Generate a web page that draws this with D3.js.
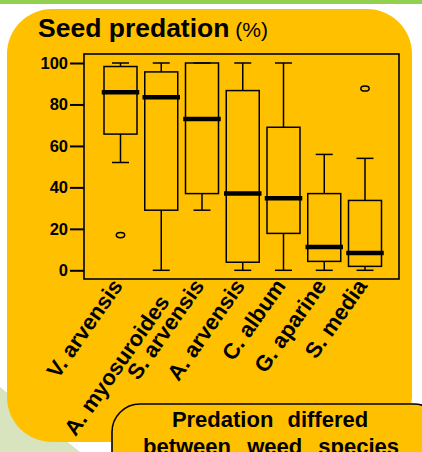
<!DOCTYPE html>
<html>
<head>
<meta charset="utf-8">
<script src="https://cdn.jsdelivr.net/npm/d3@7"></script>
<style>
  html, body { margin: 0; padding: 0; background: #fff; overflow: hidden; }
  text { font-family: "Liberation Sans", Arial, sans-serif; }
</style>
</head>
<body>
<script>
// Data
const species = ["V. arvensis", "A. myosuroides", "S. arvensis", "A. arvensis", "C. album", "G. aparine", "S. media"];
const lowerWhisker = [52, 0, 29, 0, 0, 0, 0];
const q1 = [65.7, 29, 37, 3.9, 17.8, 4.3, 1.9];
const median = [85.9, 83.5, 73, 37, 34.7, 11.2, 8.3];
const q3 = [98.3, 95.7, 100, 86.7, 69, 37, 33.7];
const upperWhisker = [100, 100, 100, 100, 100, 55.9, 54];
const outliers = [[17], [], [], [], [], [], [87.7]];
const yTicks = [0, 20, 40, 60, 80, 100];

const width = 422, height = 452;
const orange = "#FFC000";

const svg = d3.select("body").append("svg").attr("width", width).attr("height", height);

// background decorations
svg.append("rect").attr("x", 0).attr("y", 0).attr("width", width).attr("height", 4).attr("fill", "#92D050");
svg.append("path").attr("d", "M0,387 L80,452 L0,452 Z").attr("fill", "#D7E4BD");
svg.append("rect").attr("x", 7).attr("y", 9).attr("width", 405).attr("height", 433).attr("rx", 45).attr("fill", orange);

// Title
const title = svg.append("text").attr("x", 38).attr("y", 37).attr("fill", "#000");
title.append("tspan").attr("font-size", 26.5).attr("font-weight", "bold").text("Seed predation");
title.append("tspan").attr("font-size", 21).text(" (%)");

// Scales
const plot = {left: 84, right: 399, top: 54, bottom: 279};
const x = d3.scalePoint().domain(species).range([120.5, 365]);
const y = d3.scaleLinear().domain([0, 100]).range([270.3, 63]);
const boxW = 33, capW = 17;

// y axis
const yAxis = svg.append("g").attr("transform", `translate(${plot.left},0)`)
  .call(d3.axisLeft(y).tickValues(yTicks).tickSize(14).tickPadding(2));
yAxis.select(".domain").remove();
yAxis.selectAll(".tick line").attr("stroke", "#000").attr("stroke-width", 2);
yAxis.selectAll(".tick text").attr("fill", "#000").attr("font-size", 16.5).attr("font-weight", "bold")
  .attr("font-family", "Liberation Sans, Arial, sans-serif");

// plot frame
svg.append("rect").attr("x", plot.left).attr("y", plot.top)
  .attr("width", plot.right - plot.left).attr("height", plot.bottom - plot.top)
  .attr("fill", "none").attr("stroke", "#000").attr("stroke-width", 1.6);

// boxes
const rows = species.map((s, i) => ({s, lo: lowerWhisker[i], q1: q1[i], med: median[i], q3: q3[i], hi: upperWhisker[i], out: outliers[i]}));
const g = svg.append("g").attr("stroke", "#000").attr("fill", "none");
const box = g.selectAll("g.box").data(rows).join("g").attr("class", "box");

box.append("line").attr("x1", d => x(d.s)).attr("x2", d => x(d.s))
  .attr("y1", d => y(d.q3)).attr("y2", d => y(d.hi)).attr("stroke-width", 1.5);
box.append("line").attr("x1", d => x(d.s)).attr("x2", d => x(d.s))
  .attr("y1", d => y(d.q1)).attr("y2", d => y(d.lo)).attr("stroke-width", 1.5);
box.append("line").attr("x1", d => x(d.s) - capW / 2).attr("x2", d => x(d.s) + capW / 2)
  .attr("y1", d => y(d.hi)).attr("y2", d => y(d.hi)).attr("stroke-width", 1.5);
box.append("line").attr("x1", d => x(d.s) - capW / 2).attr("x2", d => x(d.s) + capW / 2)
  .attr("y1", d => y(d.lo)).attr("y2", d => y(d.lo)).attr("stroke-width", 1.5);
box.append("rect").attr("x", d => x(d.s) - boxW / 2).attr("width", boxW)
  .attr("y", d => y(d.q3)).attr("height", d => y(d.q1) - y(d.q3)).attr("stroke-width", 1.5);
box.append("line").attr("x1", d => x(d.s) - boxW / 2).attr("x2", d => x(d.s) + boxW / 2)
  .attr("y1", d => y(d.med)).attr("y2", d => y(d.med))
  .attr("stroke-width", 4.5).attr("stroke-linecap", "square");
box.selectAll("ellipse").data(d => d.out.map(v => ({s: d.s, v}))).join("ellipse")
  .attr("cx", d => x(d.s)).attr("cy", d => y(d.v)).attr("rx", 4.2).attr("ry", 2.6).attr("stroke-width", 1.5);

// rotated category labels (the long one sits a little lower in the original)
const labelShift = {"A. myosuroides": [6, 16]};
svg.append("g").selectAll("text").data(species).join("text")
  .attr("transform", d => {
    const [dx, dy] = labelShift[d] || [0, 0];
    return `translate(${x(d) + 3 + dx},${286 + dy}) rotate(-55)`;
  })
  .attr("text-anchor", "end").attr("font-size", 22).attr("font-weight", "bold").attr("fill", "#000")
  .text(d => d);

// callout
svg.append("rect").attr("x", 112).attr("y", 404).attr("width", 330).attr("height", 110).attr("rx", 28)
  .attr("fill", orange).attr("stroke", "#000").attr("stroke-width", 1.6);
svg.append("text").attr("x", 270).attr("y", 427).attr("text-anchor", "middle")
  .attr("font-size", 22).attr("font-weight", "bold").attr("word-spacing", 8).text("Predation differed");
svg.append("text").attr("x", 271).attr("y", 454).attr("text-anchor", "middle")
  .attr("font-size", 22).attr("font-weight", "bold").attr("word-spacing", 10).text("between weed species");
</script>
</body>
</html>
